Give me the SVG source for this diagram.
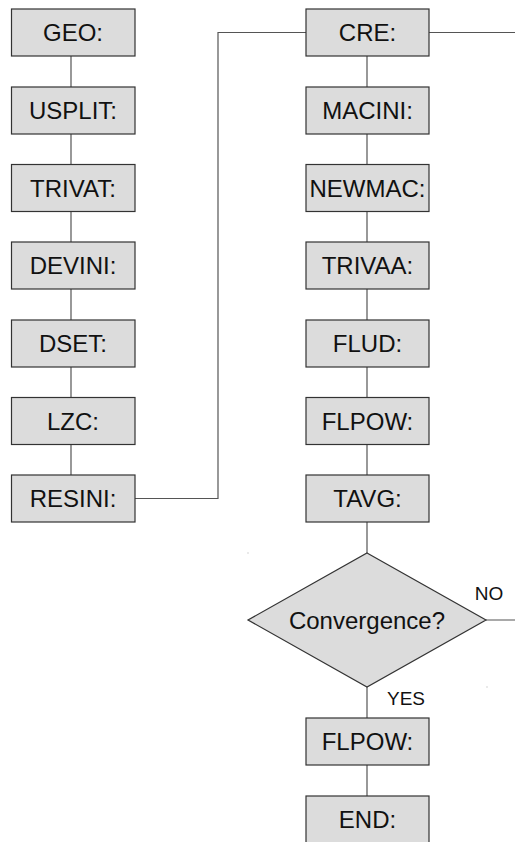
<svg xmlns="http://www.w3.org/2000/svg" width="515" height="842" viewBox="0 0 515 842">
<style>
.box{fill:#dcdcdc;stroke:#333;stroke-width:1.2}
.t{font-family:"Liberation Sans",Arial,sans-serif;font-size:24px;fill:#111;text-anchor:middle}
.s{font-family:"Liberation Sans",Arial,sans-serif;font-size:19px;fill:#111;text-anchor:middle}
.ln{fill:none;stroke:#555;stroke-width:1.2}
</style>
<rect width="515" height="842" fill="#fff"/>
<g id="connectors">
<path class="ln" d="M71 56V87M71 134V164.5M71 211.5V242M71 289V320M71 367V397.5M71 444.5V475"/>
<path class="ln" d="M135 498.5H218V32.5H306M429 32.5H515"/>
<path class="ln" d="M367 56V87M367 134V164.5M367 211.5V242M367 289V320M367 367V397.5M367 444.5V475M367 522V553M367 687V718M367 765V796M486 620H515"/>
<text class="s" x="489" y="600">NO</text>
<text class="s" x="406" y="705">YES</text>
</g>
<g id="geo"><rect class="box" x="11.5" y="9" width="123.5" height="47"/><text class="t" x="73" y="41">GEO:</text></g>
<g id="usplit"><rect class="box" x="11.5" y="87" width="123.5" height="47"/><text class="t" x="73" y="119">USPLIT:</text></g>
<g id="trivat"><rect class="box" x="11.5" y="164.5" width="123.5" height="47"/><text class="t" x="73" y="196.5">TRIVAT:</text></g>
<g id="devini"><rect class="box" x="11.5" y="242" width="123.5" height="47"/><text class="t" x="73" y="274">DEVINI:</text></g>
<g id="dset"><rect class="box" x="11.5" y="320" width="123.5" height="47"/><text class="t" x="73" y="352">DSET:</text></g>
<g id="lzc"><rect class="box" x="11.5" y="397.5" width="123.5" height="47"/><text class="t" x="73" y="429.5">LZC:</text></g>
<g id="resini"><rect class="box" x="11.5" y="475" width="123.5" height="47"/><text class="t" x="73" y="507">RESINI:</text></g>
<g id="cre"><rect class="box" x="306" y="9" width="123" height="47"/><text class="t" x="367.5" y="41">CRE:</text></g>
<g id="macini"><rect class="box" x="306" y="87" width="123" height="47"/><text class="t" x="367.5" y="119">MACINI:</text></g>
<g id="newmac"><rect class="box" x="306" y="164.5" width="123" height="47"/><text class="t" x="367.5" y="196.5">NEWMAC:</text></g>
<g id="trivaa"><rect class="box" x="306" y="242" width="123" height="47"/><text class="t" x="367.5" y="274">TRIVAA:</text></g>
<g id="flud"><rect class="box" x="306" y="320" width="123" height="47"/><text class="t" x="367.5" y="352">FLUD:</text></g>
<g id="flpow1"><rect class="box" x="306" y="397.5" width="123" height="47"/><text class="t" x="367.5" y="429.5">FLPOW:</text></g>
<g id="tavg"><rect class="box" x="306" y="475" width="123" height="47"/><text class="t" x="367.5" y="507">TAVG:</text></g>
<g id="convergence"><polygon class="box" points="367,553 486,620 367,687 248,620"/><text class="t" x="367" y="628.5">Convergence?</text></g>
<g id="flpow2"><rect class="box" x="306" y="718" width="123" height="47"/><text class="t" x="367.5" y="750">FLPOW:</text></g>
<g id="end"><rect class="box" x="306" y="796" width="123" height="48"/><text class="t" x="367.5" y="828">END:</text></g>
<rect x="247.5" y="552.5" width="1" height="1" fill="#aaa"/>
<rect x="486.5" y="686.5" width="1" height="1" fill="#aaa"/>
</svg>
